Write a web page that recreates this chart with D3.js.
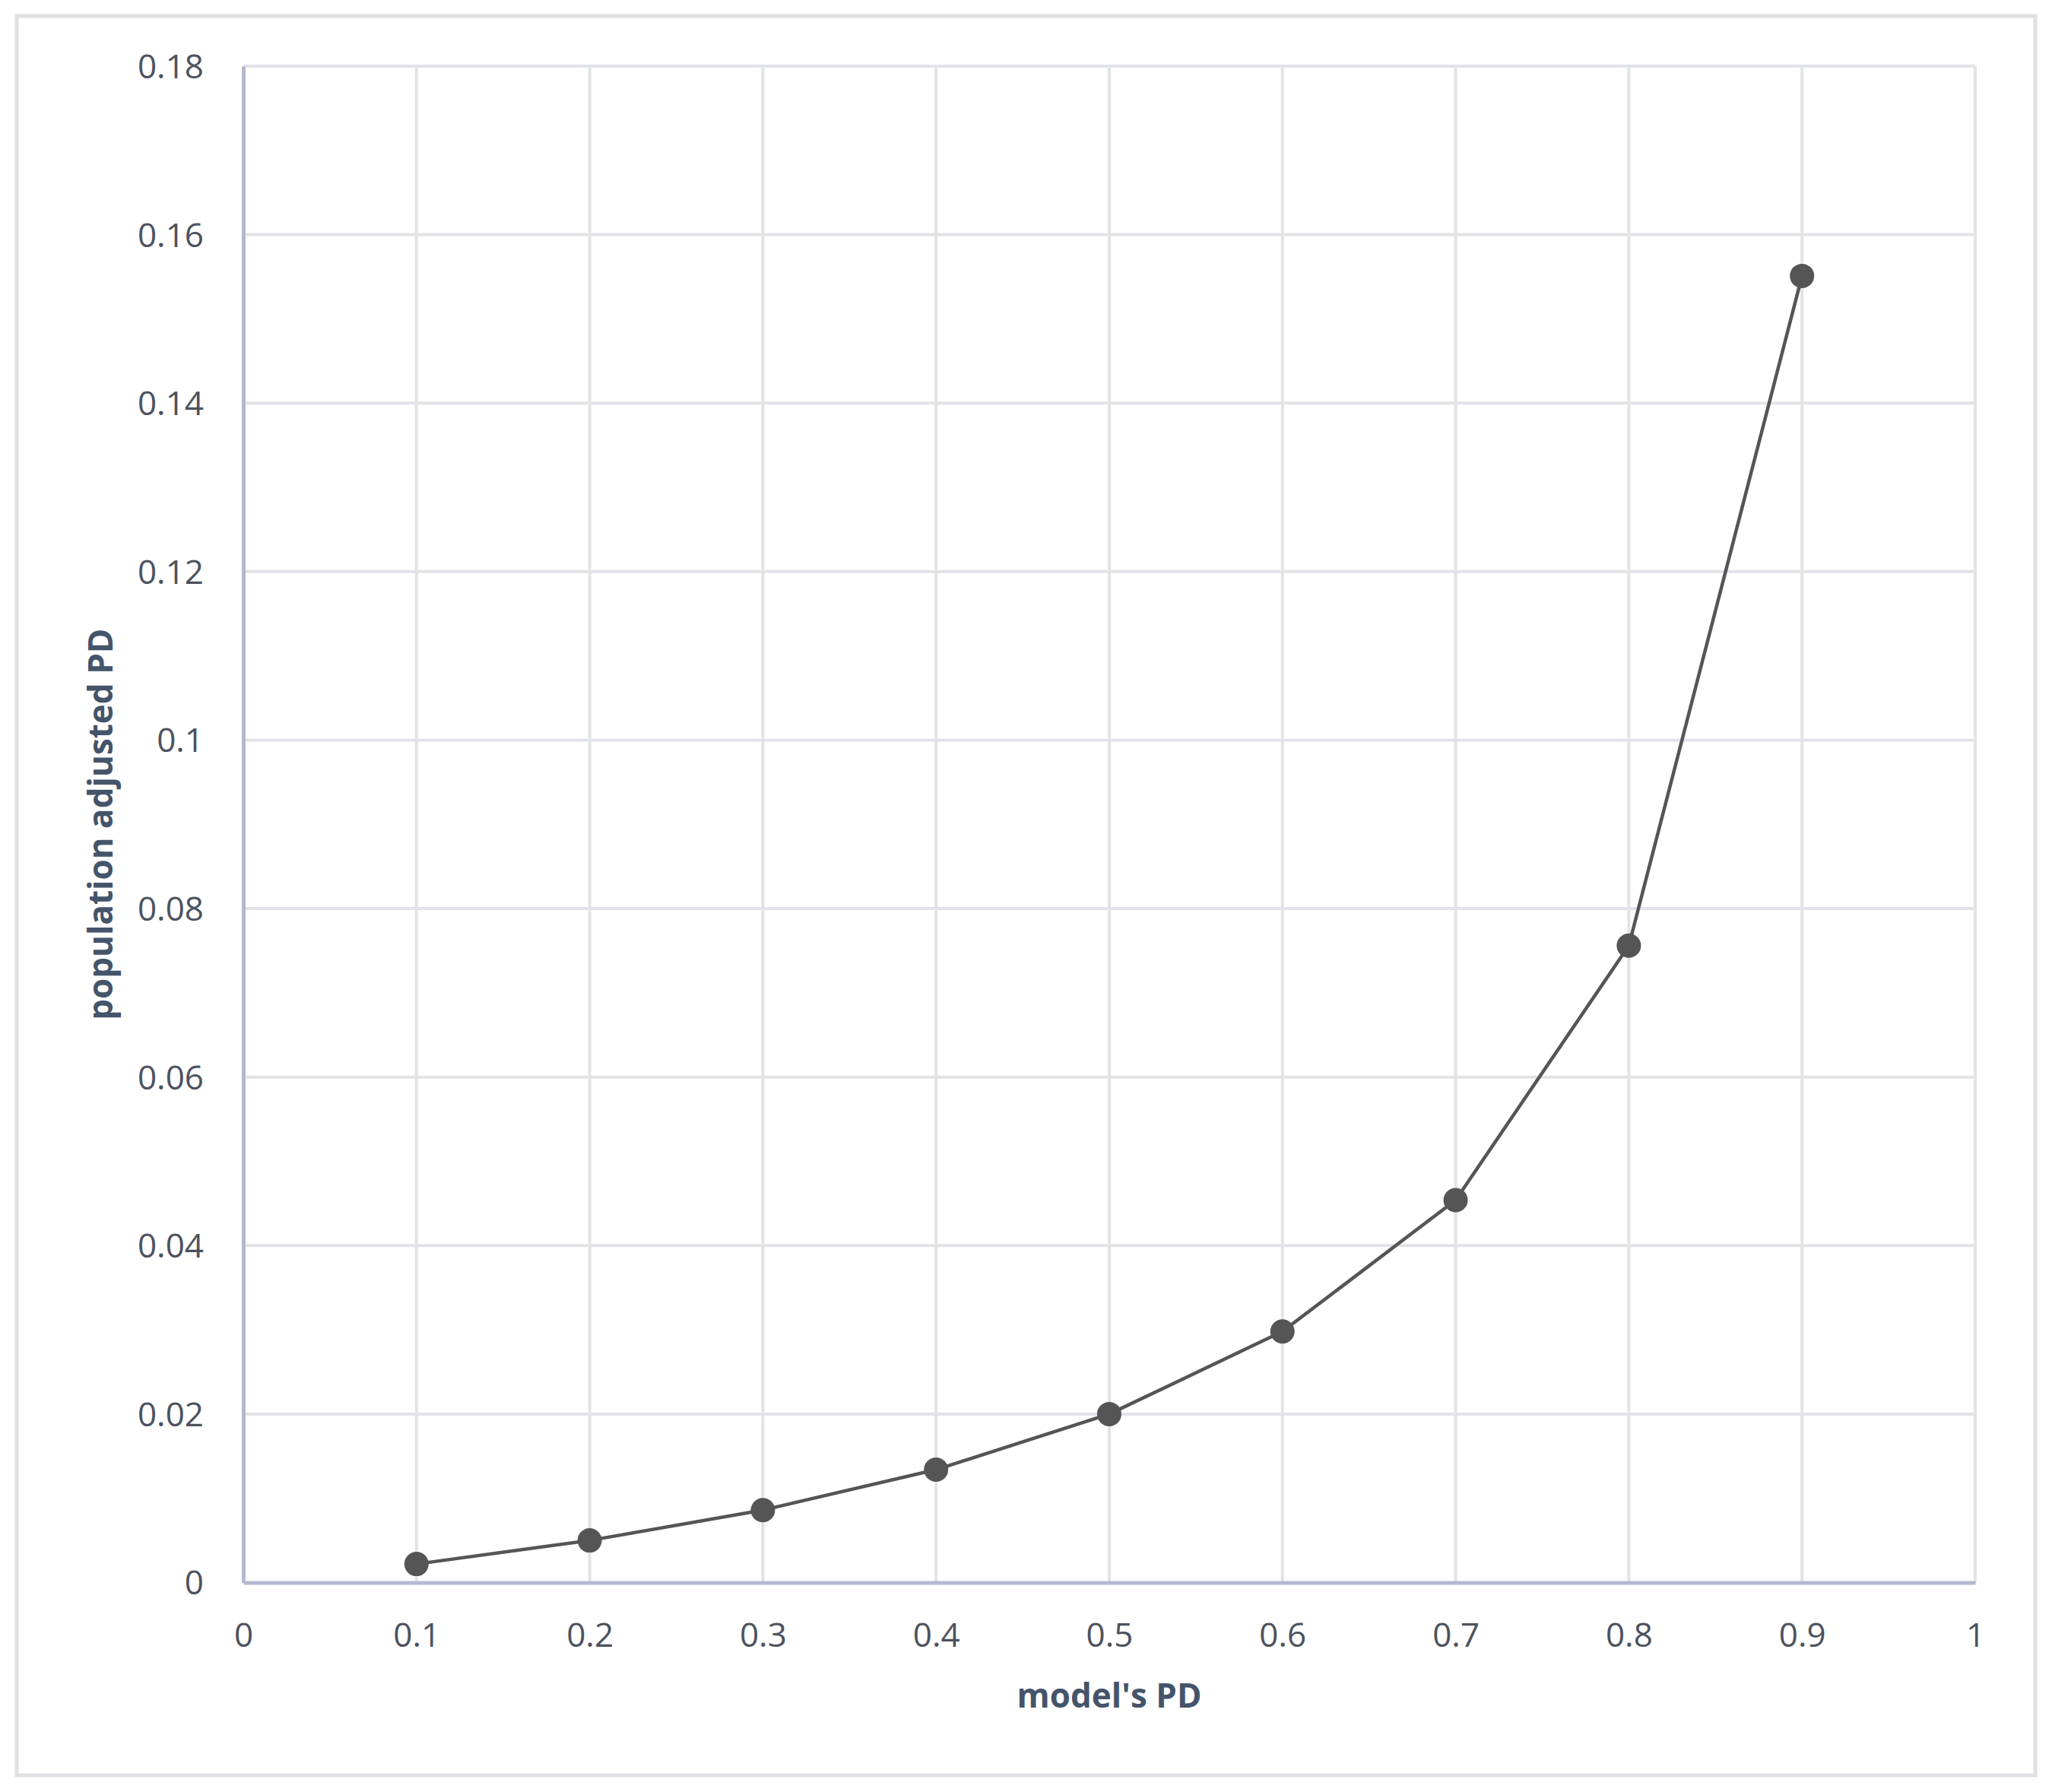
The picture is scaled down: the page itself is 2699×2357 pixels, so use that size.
<!DOCTYPE html>
<html>
<head>
<meta charset="utf-8">
<script src="https://cdn.jsdelivr.net/npm/d3@7"></script>
<style>
  html, body { margin: 0; padding: 0; background: #ffffff; }
  svg { display: block; }
</style>
</head>
<body>
<script>
// ---- data ----
const xValues = [0.1, 0.2, 0.3, 0.4, 0.5, 0.6, 0.7, 0.8, 0.9];
const yValues = [0.0022, 0.0050, 0.0086, 0.0134, 0.0200, 0.0298, 0.0454, 0.0756, 0.1551];
const xTicks = [0, 0.1, 0.2, 0.3, 0.4, 0.5, 0.6, 0.7, 0.8, 0.9, 1];
const yTicks = [0, 0.02, 0.04, 0.06, 0.08, 0.1, 0.12, 0.14, 0.16, 0.18];
const xTitle = "model's PD";
const yTitle = "population adjusted PD";

// ---- layout ----
const W = 2699, H = 2357;
const plotL = 320, plotR = 2598, plotT = 87, plotB = 2081.5;
const font = "'Open Sans', 'Noto Sans', 'DejaVu Sans', sans-serif";

const svg = d3.select("body").append("svg")
  .attr("width", W).attr("height", H);

// outer border
svg.append("rect")
  .attr("x", 22).attr("y", 21)
  .attr("width", 2655).attr("height", 2314)
  .attr("fill", "#ffffff")
  .attr("stroke", "#dfe0e4").attr("stroke-width", 5);

const x = d3.scaleLinear().domain([0, 1]).range([plotL, plotR]);
const y = d3.scaleLinear().domain([0, 0.18]).range([plotB, plotT]);

// gridlines
svg.append("g").selectAll("line").data(xTicks.filter(d => d > 0)).join("line")
  .attr("x1", d => x(d)).attr("x2", d => x(d))
  .attr("y1", y(0.18)).attr("y2", y(0))
  .attr("stroke", "#e2e3e8").attr("stroke-width", 4);
svg.append("g").selectAll("line").data(yTicks.filter(d => d > 0)).join("line")
  .attr("x1", x(0)).attr("x2", x(1))
  .attr("y1", d => y(d)).attr("y2", d => y(d))
  .attr("stroke", "#e2e3e8").attr("stroke-width", 4);

// axes via d3 axis generators
const fmt = d => String(+d.toFixed(2));
const xAxis = svg.append("g")
  .attr("transform", `translate(0,${plotB})`)
  .call(d3.axisBottom(x).tickValues(xTicks).tickFormat(fmt).tickSize(0).tickPadding(52));
const yAxis = svg.append("g")
  .attr("transform", `translate(${plotL},0)`)
  .call(d3.axisLeft(y).tickValues(yTicks).tickFormat(fmt).tickSize(0).tickPadding(52));

[xAxis, yAxis].forEach(g => {
  g.select(".domain").attr("stroke", "#b3b9cf").attr("stroke-width", 5);
  g.selectAll("text")
    .attr("font-family", font)
    .attr("font-size", 44)
    .attr("fill", "#4d525e");
});
yAxis.selectAll(".tick text").attr("dy", "0.35em");
xAxis.selectAll(".tick text").attr("dy", null).attr("y", 84);

// series line
const line = d3.line().x(d => x(d[0])).y(d => y(d[1]));
const pts = xValues.map((v, i) => [v, yValues[i]]);
svg.append("path")
  .datum(pts)
  .attr("d", line)
  .attr("fill", "none")
  .attr("stroke", "#555555")
  .attr("stroke-width", 4.5)
  .attr("stroke-linejoin", "round");

svg.append("g").selectAll("circle").data(pts).join("circle")
  .attr("cx", d => x(d[0])).attr("cy", d => y(d[1]))
  .attr("r", 16)
  .attr("fill", "#555555");

// axis titles
svg.append("text")
  .attr("x", (plotL + plotR) / 2).attr("y", 2246)
  .attr("text-anchor", "middle")
  .attr("font-family", font).attr("font-weight", "bold")
  .attr("font-size", 44).attr("fill", "#44546a")
  .text(xTitle);

svg.append("text")
  .attr("transform", `translate(148,${(plotT + plotB) / 2}) rotate(-90)`)
  .attr("text-anchor", "middle")
  .attr("font-family", font).attr("font-weight", "bold")
  .attr("font-size", 44).attr("fill", "#44546a")
  .text(yTitle);
</script>
</body>
</html>
